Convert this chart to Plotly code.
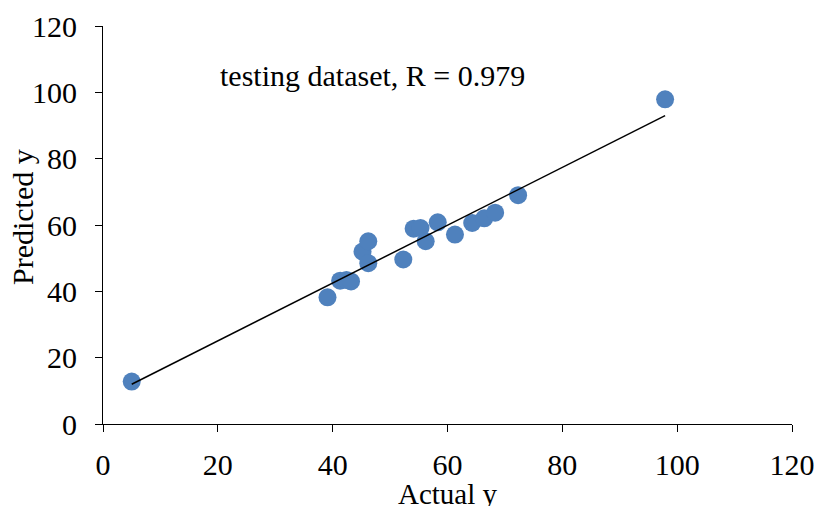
import numpy as np
import plotly.graph_objects as go

actual_y = [5.0, 39.1, 41.3, 42.4, 43.2, 45.2, 46.2, 46.2, 52.3, 54.1, 55.3, 56.2, 58.3, 61.3, 64.3, 66.4, 68.3, 72.3, 97.9]
predicted_y = [12.8, 38.2, 43.2, 43.4, 43.0, 52.0, 55.1, 48.5, 49.6, 58.9, 59.1, 55.1, 60.8, 57.1, 60.6, 62.0, 63.7, 69.0, 97.9]
annotation_text = "testing dataset, R = 0.979"
x_title = "Actual y"
y_title = "Predicted y"
x_ticks = [0, 20, 40, 60, 80, 100, 120]
y_ticks = [0, 20, 40, 60, 80, 100, 120]

slope, intercept = np.polyfit(actual_y, predicted_y, 1)
x_line = np.array([min(actual_y), max(actual_y)])
y_line = slope * x_line + intercept

fig = go.Figure()
fig.add_trace(go.Scatter(x=actual_y, y=predicted_y, mode="markers",
                         marker=dict(size=18, color="#4F81BD"), showlegend=False))
fig.add_trace(go.Scatter(x=x_line, y=y_line, mode="lines",
                         line=dict(color="black", width=1.5), showlegend=False))

fam = "Liberation Serif, Times New Roman, serif"
tick_font = dict(family=fam, size=30, color="black")
fig.update_layout(
    width=818, height=506,
    margin=dict(l=103, r=26, t=26, b=82),
    plot_bgcolor="white", paper_bgcolor="white",
    font=tick_font,
    xaxis=dict(range=[0, 120], tickvals=x_ticks, showgrid=False, zeroline=False,
               showline=True, linecolor="black", linewidth=1, ticks="outside",
               ticklen=7, tickcolor="black", ticklabelstandoff=7, tickfont=tick_font,
               automargin=False),
    yaxis=dict(range=[0, 120], tickvals=y_ticks, showgrid=False, zeroline=False,
               showline=True, linecolor="black", linewidth=1, ticks="outside",
               ticklen=7, tickcolor="black", ticklabelstandoff=12, tickfont=tick_font,
               automargin=False),
    annotations=[
        dict(x=47, y=105.2, xref="x", yref="y", text=annotation_text,
             showarrow=False, font=dict(family=fam, size=30, color="black")),
        dict(x=0.5, y=0, xref="paper", yref="paper", text=x_title, showarrow=False,
             xanchor="center", yanchor="middle", yshift=-70,
             font=dict(family=fam, size=29, color="black")),
        dict(x=0, y=0.52, xref="paper", yref="paper", text=y_title, showarrow=False,
             textangle=-90, xanchor="center", yanchor="middle", xshift=-81,
             font=dict(family=fam, size=30, color="black")),
    ],
)
fig.write_html("out.html", config={"displayModeBar": False},
               post_script="document.body.style.margin='0';document.body.style.overflow='hidden';")
